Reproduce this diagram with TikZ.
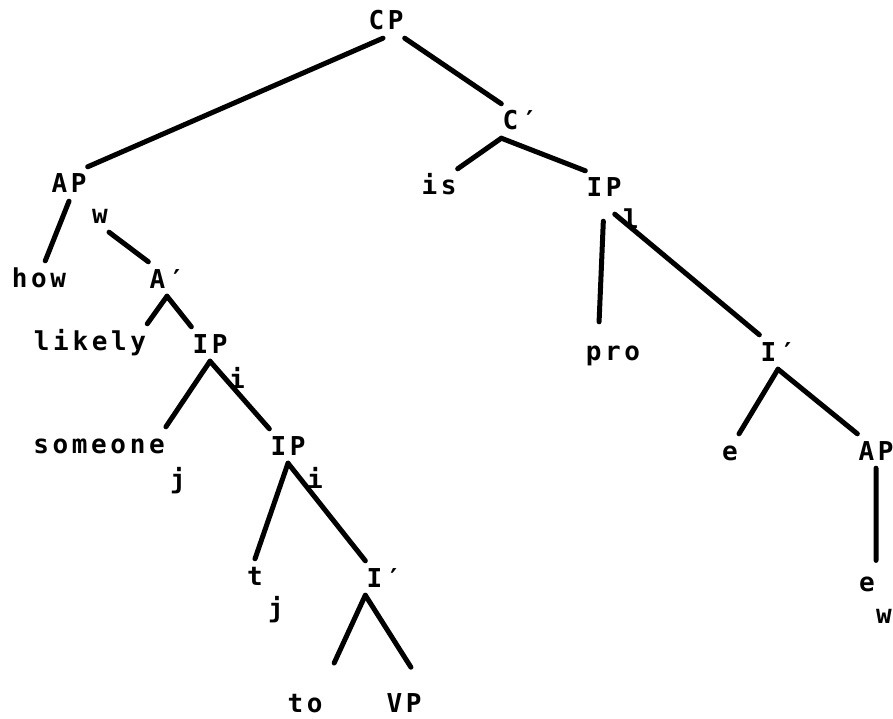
\documentclass[tikz,border=0pt]{standalone}
\usepackage{fontspec}
\newfontfamily\treefont[LetterSpace=14]{DejaVu Sans Mono Bold}

\begin{document}
\begin{tikzpicture}[x=1pt, y=-1pt,
  lbl/.style={font={\treefont\fontsize{26}{30}\selectfont}, inner xsep=1pt,
    inner ysep=8pt, text height=18pt, text depth=0pt, anchor=base},
  branch/.style={draw, line width=5pt, line cap=round}]

\useasboundingbox (0,0) rectangle (893,719);

% Root
\node[lbl] (cp) at (386,30) {CP};
\node[lbl] (cbar) at (520,130) {C′};

% Left side: AP
\node[lbl] (ap) at (69,193) {AP};
\node[lbl] (w1) at (100,224) {w};
\node[lbl] (how) at (39,287) {how};
\node[lbl] (abar) at (167,288) {A′};
\node[lbl] (likely) at (90,350) {likely};
\node[lbl] (ipa) at (210,353) {IP};
\node[lbl] (ia) at (237,388) {i};
\node[lbl] (someone) at (99,453) {someone};
\node[lbl] (ja) at (178,488) {j};
\node[lbl] (ipb) at (288,455) {IP};
\node[lbl] (ib) at (315,488) {i};
\node[lbl] (tj) at (255,585) {t};
\node[lbl] (jb) at (276,617) {j};
\node[lbl] (ibar) at (384,587) {I′};
\node[lbl] (to) at (305,712) {to};
\node[lbl] (vp) at (404,712) {VP};

% Right side: C-bar
\node[lbl] (is) at (439,195) {is};
\node[lbl] (ipc) at (604,197) {IP};
\node[lbl] (l1) at (631,229) {l};
\node[lbl] (pro) at (613,360) {pro};
\node[lbl] (ibarr) at (778,361) {I′};
\node[lbl] (e1) at (730,460) {e};
\node[lbl] (apr) at (876,460) {AP};
\node[lbl] (e2) at (867,591) {e};
\node[lbl] (w2) at (884,623) {w};

% Branches
\draw[branch] (cp.-100) -- (ap.north east);
\draw[branch] (cp.south east) -- (cbar.north west);
\draw[branch] (ap.south) -- (how.70);
\draw[branch] (w1.south east) -- (abar.north west);
\draw[branch] (abar.south) -- (likely.north east);
\draw[branch] (abar.south) -- (ipa.north west);
\draw[branch] (ipa.south) -- (someone.north east);
\draw[branch] (ipa.south) -- (ipb.north west);
\draw[branch] (ipb.south) -- (tj.north);
\draw[branch] (ipb.south) -- (ibar.north west);
\draw[branch, shorten >=25pt] (ibar.south west) -- (to.north east);
\draw[branch, shorten >=22pt] (ibar.south west) -- (vp.north east);

\draw[branch] (cbar.south west) -- (is.north east);
\draw[branch] (cbar.south west) -- (ipc.north west);
\draw[branch, shorten <=16pt, shorten >=12pt] (ipc.south) -- (pro.130);
\draw[branch, shorten <=14pt] (ipc.south) -- (ibarr.north west);
\draw[branch] (ibarr.south) -- (e1.north east);
\draw[branch] (ibarr.south) -- (apr.north west);
\draw[branch, shorten >=6pt] (apr.south) -- (e2.60);

\end{tikzpicture}
\end{document}
